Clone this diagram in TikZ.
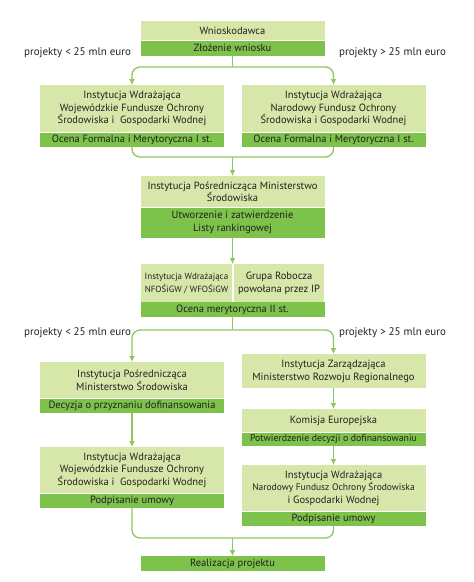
\documentclass[tikz,border=0pt]{standalone}
\usepackage{fontspec}
\setmainfont{PT Sans}
\usetikzlibrary{arrows.meta}
\definecolor{jasny}{HTML}{D7E7A9}
\definecolor{ciemny}{HTML}{7DC24B}
\definecolor{kreska}{HTML}{8CC760}
\definecolor{tekst}{HTML}{231F20}
\tikzset{
  box/.style={fill=jasny, text=tekst, minimum width=184pt, inner xsep=2pt, inner ysep=0pt,
    align=center, anchor=north, font=\fontsize{10.5}{12.5}\selectfont},
  pasek/.style={box, fill=ciemny},
  linia/.style={draw=kreska, line width=1.3pt},
  strzalka/.style={linia, -{Latex[length=6pt,width=6pt]}},
  opis/.style={text=tekst, font=\fontsize{11}{12}\selectfont}
}
\begin{document}
\begin{tikzpicture}[x=1pt,y=-1pt]
    \useasboundingbox (0,0) rectangle (474,582);
    % Wnioskodawca
    \node[box, minimum height=19pt] (wn) at (232.5,21) {Wnioskodawca};
    \node[pasek, minimum height=15pt] (wnS) at (wn.south) {Złożenie wniosku};
    \node[opis] (mniej1) at (77.5,53) {projekty < 25 mln euro};
    \node[opis] (wiecej1) at (392.5,53) {projekty > 25 mln euro};
    % pierwsza ocena
    \node[box, minimum height=47pt] (wfos) at (132,85)
        {Instytucja Wdrażająca\\Wojewódzkie Fundusze Ochrony\\Środowiska i~ Gospodarki Wodnej};
    \node[pasek, minimum height=14pt] (wfosS) at (wfos.south) {Ocena Formalna i Merytoryczna I st.};
    \node[box, minimum height=47pt] (nfos) at (333.5,85)
        {Instytucja Wdrażająca\\Narodowy Fundusz Ochrony\\Środowiska i Gospodarki Wodnej};
    \node[pasek, minimum height=14pt] (nfosS) at (nfos.south) {Ocena Formalna i Merytoryczna I st.};
    % lista rankingowa
    \node[box, minimum height=31pt] (ipms) at (232.5,176)
        {Instytucja Pośrednicząca Ministerstwo\\Środowiska};
    \node[pasek, minimum height=30pt] (ipmsS) at (ipms.south) {Utworzenie i zatwierdzenie\\Listy rankingowej};
    % druga ocena
    \node[box, minimum width=91pt, minimum height=38pt, font=\fontsize{9}{13}\selectfont] (iw) at (186.5,264)
        {Instytucja Wdrażająca\\NFOŚiGW / WFOŚiGW};
    \node[box, minimum width=90pt, minimum height=38pt] (gr) at (279,264) {Grupa Robocza\\powołana przez IP};
    \node[pasek, minimum height=15pt] (ocS) at (232.5,302) {Ocena merytoryczna II st.};
    \node[opis] (mniej2) at (77.5,333) {projekty < 25 mln euro};
    \node[opis] (wiecej2) at (392.5,333) {projekty > 25 mln euro};
    % lewa galaz
    \node[box, minimum height=36pt] (ipl) at (132,362) {Instytucja Pośrednicząca\\Ministerstwo Środowiska};
    \node[pasek, minimum height=14pt] (iplS) at (ipl.south) {Decyzja o przyznaniu dofinansowania};
    \node[box, minimum height=46pt] (iwl) at (132,447)
        {Instytucja Wdrażająca\\Wojewódzkie Fundusze Ochrony\\Środowiska i~ Gospodarki Wodnej};
    \node[pasek, minimum height=14pt] (iwlS) at (iwl.south) {Podpisanie umowy};
    % prawa galaz
    \node[box, minimum height=34pt] (iz) at (333.5,354) {Instytucja Zarządzająca\\Ministerstwo Rozwoju Regionalnego};
    \node[box, minimum height=23pt] (ke) at (333.5,409) {Komisja Europejska};
    \node[pasek, minimum height=13pt, font=\fontsize{9.8}{12}\selectfont] (keS) at (ke.south)
        {Potwierdzenie decyzji o dofinansowaniu};
    \node[box, minimum height=46pt] (iwp) at (333.5,465)
        {Instytucja Wdrażająca\\{\fontsize{9.5}{12.5}\selectfont Narodowy Fundusz Ochrony Środowiska}\\i Gospodarki Wodnej};
    \node[pasek, minimum height=14pt] (iwpS) at (iwp.south) {Podpisanie umowy};
    % koniec
    \node[pasek, minimum height=15pt] (real) at (232.5,556) {Realizacja projektu};
    % polaczenia
    \draw[linia] (wnS.south) -- (232.5,67) coordinate (r1);
    \draw[strzalka, rounded corners=8pt] (r1) -| (wfos.north);
    \draw[strzalka, rounded corners=8pt] (r1) -| (nfos.north);
    \coordinate (r2) at (232.5,157);
    \draw[linia, rounded corners=8pt] (wfosS.south) |- (r2);
    \draw[linia, rounded corners=8pt] (nfosS.south) |- (r2);
    \draw[strzalka] (r2) -- (ipms.north);
    \draw[strzalka] (ipmsS.south) -- (232.5,264);
    \draw[linia] (ocS.south) -- (232.5,330) coordinate (r3);
    \draw[strzalka, rounded corners=8pt] (r3) -| (ipl.north);
    \draw[strzalka, rounded corners=8pt] (r3) -| (iz.north);
    \draw[strzalka] (iplS.south) -- (iwl.north);
    \draw[strzalka] (iz.south) -- (ke.north);
    \draw[strzalka] (keS.south) -- (iwp.north);
    \coordinate (r4) at (232.5,538);
    \draw[linia, rounded corners=8pt] (iwlS.south) |- (r4);
    \draw[linia, rounded corners=8pt] (iwpS.south) |- (r4);
    \draw[strzalka] (r4) -- (real.north);
\end{tikzpicture}
\end{document}
